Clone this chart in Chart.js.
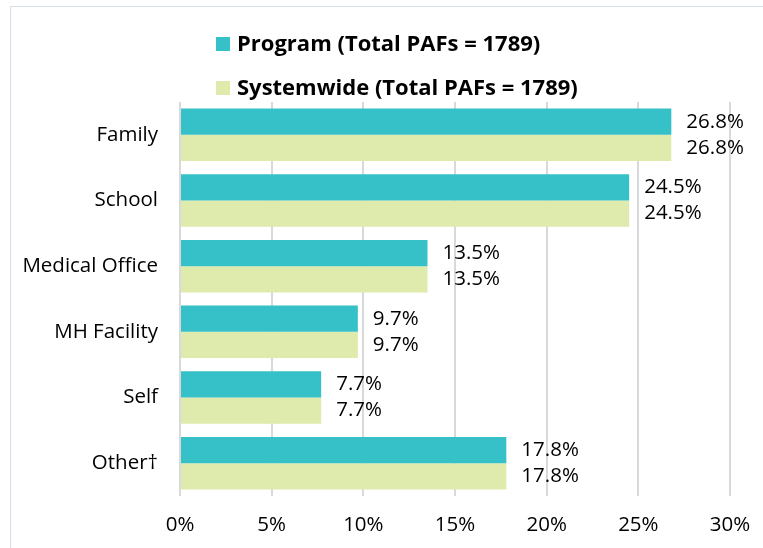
<!DOCTYPE html>
<html>
<head>
<meta charset="utf-8">
<script src="https://cdn.jsdelivr.net/npm/chart.js@4/dist/chart.umd.min.js"></script>
<style>
  html, body { margin: 0; padding: 0; background: #fff; overflow: hidden; }
  #wrap { position: relative; width: 763px; height: 548px; }
  #frame { position: absolute; left: 10px; top: 6px; width: 800px; height: 600px; border: 1px solid #d6e0ea; box-sizing: border-box; }
  canvas { position: absolute; left: 0; top: 0; }
</style>
</head>
<body>
<div id="wrap">
  <div id="frame"></div>
  <canvas id="myChart" width="763" height="548"></canvas>
</div>
<script>
const categories = ["Family", "School", "Medical Office", "MH Facility", "Self", "Other\u2020"];
const programValues = [26.8, 24.5, 13.5, 9.7, 7.7, 17.8];
const systemwideValues = [26.8, 24.5, 13.5, 9.7, 7.7, 17.8];
const seriesLabels = ["Program (Total PAFs = 1789)", "Systemwide (Total PAFs = 1789)"];
const xTicks = [0, 5, 10, 15, 20, 25, 30];

const FONT = "'Open Sans', sans-serif";

const valueLabels = {
    id: 'valueLabels',
    afterDatasetsDraw(chart) {
        const ctx = chart.ctx;
        ctx.save();
        ctx.font = "20.5px " + FONT;
        ctx.fillStyle = "#000";
        ctx.textAlign = "left";
        ctx.textBaseline = "middle";
        chart.data.datasets.forEach((ds, i) => {
            chart.getDatasetMeta(i).data.forEach((bar, j) => {
                ctx.fillText(ds.data[j].toFixed(1) + "%", bar.x + 15, bar.y);
            });
        });
        ctx.restore();
    }
};

const topLegend = {
    id: 'topLegend',
    afterDraw(chart) {
        const ctx = chart.ctx;
        ctx.save();
        ctx.font = "bold 22px " + FONT;
        ctx.fillStyle = "#000";
        ctx.textBaseline = "middle";
        const rows = [44, 88];
        chart.data.datasets.forEach((ds, i) => {
            ctx.fillStyle = ds.backgroundColor;
            ctx.fillRect(216, rows[i] - 7, 14, 14);
            ctx.fillStyle = "#000";
            ctx.fillText(ds.label, 237, rows[i] + 1);
        });
        ctx.restore();
    }
};

const ctx = document.getElementById('myChart');
new Chart(ctx, {
    type: 'bar',
    data: {
        labels: categories,
        datasets: [
            { label: seriesLabels[0], data: programValues, backgroundColor: "#36c1c8", borderWidth: 0 },
            { label: seriesLabels[1], data: systemwideValues, backgroundColor: "#dfeaad", borderWidth: 0 }
        ]
    },
    options: {
        indexAxis: 'y',
        responsive: false,
        animation: false,
        layout: { padding: { top: 102, right: 33, left: 0, bottom: 0 } },
        plugins: {
            legend: { display: false },
            tooltip: { enabled: false }
        },
        datasets: { bar: { categoryPercentage: 0.8, barPercentage: 1.0 } },
        scales: {
            x: {
                min: 0,
                max: 30,
                afterFit(scale) {
                    scale.height = 52;
                    scale.paddingLeft = 0;
                    scale.paddingRight = 0;
                },
                afterBuildTicks(scale) { scale.ticks = xTicks.map(v => ({ value: v })); },
                border: { display: false },
                grid: { color: "#d9d9d9", lineWidth: 2, drawTicks: false },
                ticks: {
                    padding: 17,
                    color: "#000",
                    font: { family: FONT, size: 20.5 },
                    callback: v => v + "%"
                }
            },
            y: {
                afterFit(scale) { scale.width = 180; },
                border: { display: false },
                grid: { display: false, drawTicks: false },
                ticks: {
                    padding: 22,
                    color: "#000",
                    font: { family: FONT, size: 20.5 }
                }
            }
        }
    },
    plugins: [valueLabels, topLegend]
});
</script>
</body>
</html>
